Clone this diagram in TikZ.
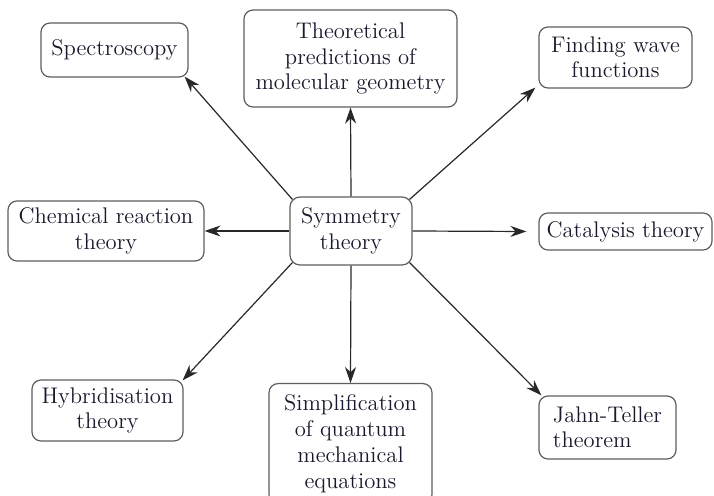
\documentclass[tikz,border=0pt]{standalone}
\usetikzlibrary{arrows.meta,calc}
\definecolor{txt}{RGB}{25,25,45}
\definecolor{boxline}{RGB}{95,95,95}
\definecolor{arr}{RGB}{40,40,40}
\tikzset{
  topic/.style={draw=boxline, line width=0.6pt, rounded corners=4.5pt, fill=white,
    text=txt, align=center, inner xsep=3pt, inner ysep=2pt,
    font=\fontsize{11.3}{12.7}\selectfont},
  link/.style={draw=arr, line width=0.6pt, -{Stealth[length=8pt,width=5.5pt]}}
}
\begin{document}
\begin{tikzpicture}[x=0.5pt,y=-0.5pt]
\useasboundingbox (0,0) rectangle (714,496);
\clip (0,0) rectangle (714,496);
\fill[white] (0,0) rectangle (714,496);
\node[topic, minimum width=73.5pt, minimum height=27pt] (spec) at (114.5,50) {Spectroscopy};
\node[topic, minimum width=106.5pt, minimum height=48.5pt] (theo) at (350.5,58.5) {Theoretical\\predictions of\\molecular geometry};
\node[topic, minimum width=76.5pt, minimum height=30.5pt] (find) at (615.5,57.5) {Finding wave\\functions};
\node[topic, minimum width=98pt, minimum height=30pt] (chem) at (106,231) {Chemical reaction\\theory};
\node[topic, minimum width=61pt, minimum height=34pt, rounded corners=5pt] (sym) at (351,231) {Symmetry\\theory};
\node[topic, minimum width=86.5pt, minimum height=18.5pt] (cat) at (625.5,231.5) {Catalysis theory};
\node[topic, minimum width=75.5pt, minimum height=30.5pt] (hyb) at (107.5,410.5) {Hybridisation\\theory};
\node[topic, minimum width=81.5pt, minimum height=60pt, anchor=north, font=\fontsize{11.3}{13}\selectfont] (simp) at (350.5,383) {Simplification\\of quantum\\mechanical\\equations};
\node[topic, align=left, minimum width=68.5pt, minimum height=31.5pt] (jt) at (607.5,427.5) {Jahn-Teller\\theorem};
\coordinate (catin) at ($(cat.west)+(-12,0)$);
\draw[link] ($(sym.north west)+(3,3)$) -- ($(spec.south east)+(-4,-1)$);
\draw[link] (sym.north) -- (theo.south);
\draw[link] ($(sym.north east)+(-3,3)$) -- ($(find.south west)+(-3,-1)$);
\draw[link] (sym.west) -- (chem.east);
\draw[link] (sym.east) -- (catin);
\draw[link] ($(sym.south west)+(3,-3)$) -- ($(hyb.north east)+(-1,1)$);
\draw[link] (sym.south) -- (simp.north);
\draw[link] ($(sym.south east)+(-3,-3)$) -- ($(jt.north west)+(3,0)$);
\end{tikzpicture}
\end{document}
